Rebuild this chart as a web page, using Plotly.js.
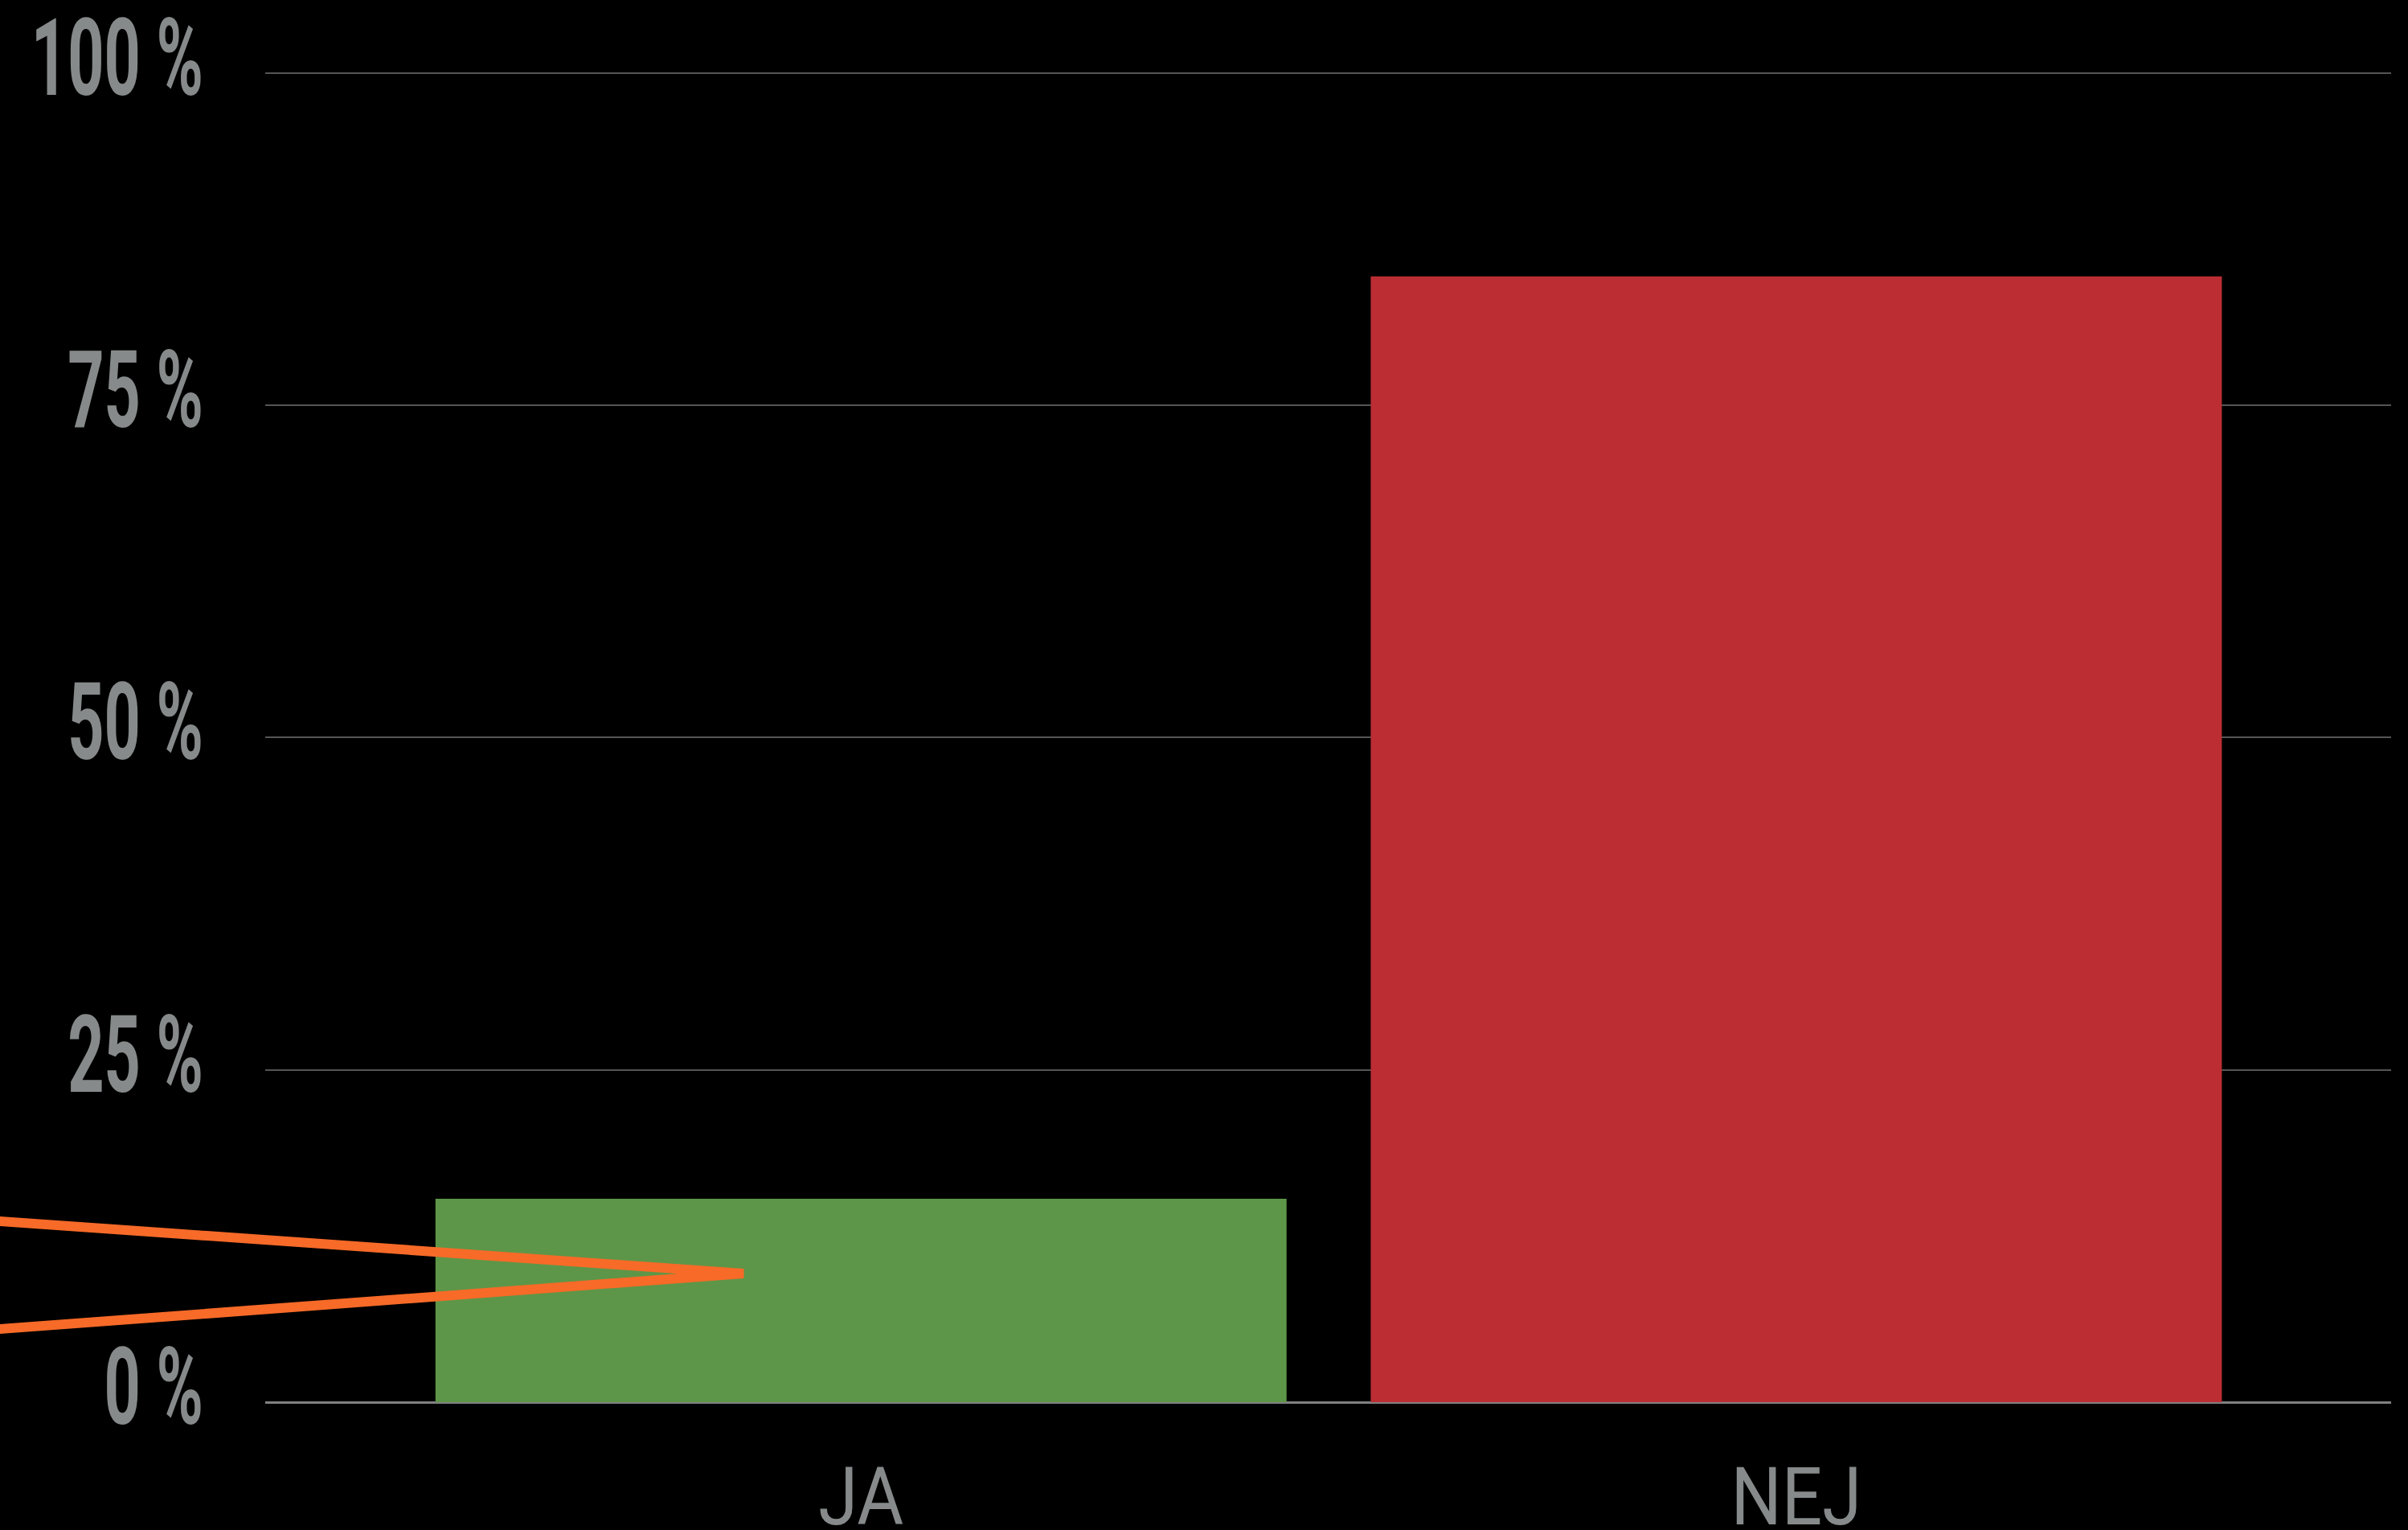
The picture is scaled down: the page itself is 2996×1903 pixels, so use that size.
<!DOCTYPE html>
<html>
<head>
<meta charset="utf-8">
<script src="https://cdn.plot.ly/plotly-3.0.1.min.js"></script>
<style>
  html, body { margin: 0; padding: 0; background: #000; }
  #chart { width: 2996px; height: 1903px; }
</style>
</head>
<body>
<div id="chart"></div>
<script>
// Data
const categories = ["JA", "NEJ"];
const values = [15.3, 84.7];
const barColors = ["#5d9648", "#bb2d32"];
const yTickVals = [0, 25, 50, 75, 100];
const yTickText = ["0 %", "25 %", "50 %", "75 %", "100 %"];

// Orange pointer (annotation chevron): [paper x, y value]
const pointerPts = [[-0.2, 14.46], [0.225, 9.68], [-0.2, 4.6]];

const pointerPath = "M " + pointerPts.map(p => p[0] + "," + p[1]).join(" L ");

const trace = {
  type: "bar",
  x: categories,
  y: values,
  marker: { color: barColors, line: { width: 0 } },
  hoverinfo: "none"
};

const layout = {
  width: 2996,
  height: 1903,
  paper_bgcolor: "#000000",
  plot_bgcolor: "#000000",
  margin: { l: 330, r: 21, t: 86, b: 159 },
  showlegend: false,
  bargap: 0.09,
  xaxis: {
    type: "category",
    range: [-0.637, 1.636],
    showgrid: false,
    zeroline: false,
    showline: false,
    ticks: "",
    tickfont: { family: "Roboto", size: 101, color: "#868a8a" },
    ticklabelstandoff: 50,
    ticklabeloverflow: "allow"
  },
  yaxis: {
    range: [0, 100.3],
    tickvals: yTickVals,
    ticktext: yTickText,
    showgrid: true,
    gridcolor: "#555555",
    gridwidth: 2,
    zeroline: true,
    zerolinecolor: "#808080",
    zerolinewidth: 3,
    showline: false,
    ticks: "",
    tickfont: { family: "Roboto", size: 134, color: "#868a8a", weight: "bold" },
    ticklabelstandoff: 76,
    ticklabelshift: -20,
    ticklabeloverflow: "allow"
  },
  shapes: [{
    type: "path",
    xref: "paper",
    yref: "y",
    path: pointerPath,
    line: { color: "#f76a28", width: 12 },
    layer: "above"
  }]
};

function condense(gd, selector, factor) {
  gd.querySelectorAll(selector).forEach(function (t) {
    const w = t.getComputedTextLength();
    t.setAttribute("textLength", (w * factor).toFixed(1));
    t.setAttribute("lengthAdjust", "spacingAndGlyphs");
  });
}

Plotly.newPlot("chart", [trace], layout, { displayModeBar: false, staticPlot: true })
  .then(function (gd) {
    condense(gd, ".ytick text", 0.59);
    condense(gd, ".xtick text", 0.88);
  });
</script>
</body>
</html>
